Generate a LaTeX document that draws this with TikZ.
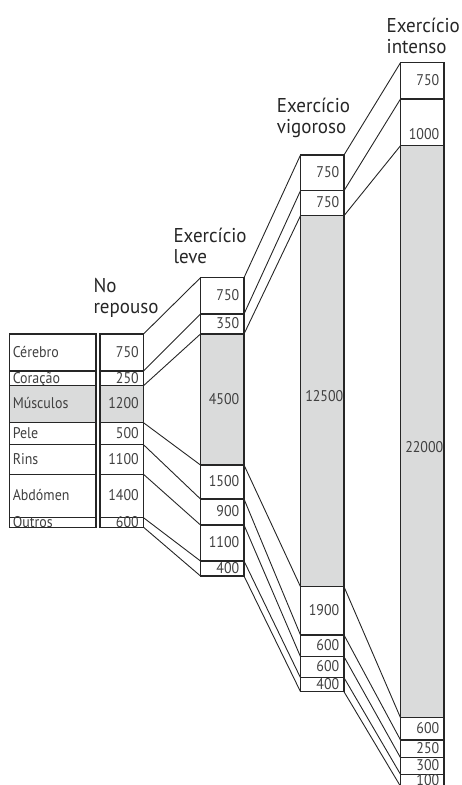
\documentclass[tikz,border=0pt]{standalone}
\usepackage{fontspec}
\setmainfont{PT Sans}[FakeStretch=0.9]
\newfontfamily\headfam{PT Sans}[FakeStretch=0.95]
\definecolor{musculo}{RGB}{218,219,219}
\newcommand{\valfont}{\fontsize{15.5}{15.5}\selectfont}
\newcommand{\titlefont}{\headfam\fontsize{20}{21}\selectfont}

\begin{document}
\begin{tikzpicture}[x=1pt,y=-1pt,
  cell/.style={draw=black!85, line width=1.1pt, rectangle, anchor=north west,
    inner sep=0pt, outer sep=0pt, minimum width=43.5pt, text width=34pt,
    align=right, text height=9.5pt, text depth=0pt, font=\valfont, text=black!75},
  organ/.style={cell, minimum width=86.5pt, text width=80pt, align=left},
  muscle/.style={fill=musculo},
  link/.style={draw=black!85, line width=0.9pt},
  heading/.style={font=\titlefont, align=left, anchor=base west,
    inner sep=0pt, text=black!85}]
\useasboundingbox (0,0) rectangle (462,785);
\clip (0,0) rectangle (462,785);

% titulos (base = ultima linha)
\node[heading] (hr) at (93.3,313) {No\\repouso};
\node[heading] (hl) at (173.3,263.5) {Exercício\\leve};
\node[heading] (hv) at (276.7,133.5) {Exercício\\vigoroso};
\node[heading] (ht) at (386.5,53.5) {Exercício\\intenso};

% orgaos
\node[organ, minimum height=37pt] (o1) at (9.5,334) {Cérebro};
\node[organ, minimum height=14.7pt] (o2) at (9.5,371) {Coração};
\node[organ, muscle, minimum height=37pt] (o3) at (9.5,385.7) {Músculos};
\node[organ, minimum height=22pt] (o4) at (9.5,422.7) {Pele};
\node[organ, minimum height=29.6pt] (o5) at (9.5,444.7) {Rins};
\node[organ, minimum height=43.4pt] (o6) at (9.5,474.3) {Abdómen};
\node[organ, minimum height=9pt] (o7) at (9.5,517.7) {Outros};

% no repouso
\node[cell, minimum height=37pt] (r1) at (100,334) {750};
\node[cell, minimum height=14.7pt] (r2) at (100,371) {250};
\node[cell, muscle, minimum height=37pt] (r3) at (100,385.7) {1200};
\node[cell, minimum height=22pt] (r4) at (100,422.7) {500};
\node[cell, minimum height=29.6pt] (r5) at (100,444.7) {1100};
\node[cell, minimum height=43.4pt] (r6) at (100,474.3) {1400};
\node[cell, minimum height=9pt] (r7) at (100,517.7) {600};

% exercicio leve
\node[cell, minimum height=36.3pt] (l1) at (200.5,277.7) {750};
\node[cell, minimum height=20pt] (l2) at (200.5,314) {350};
\node[cell, muscle, minimum height=131pt] (l3) at (200.5,334) {4500};
\node[cell, minimum height=34pt] (l4) at (200.5,465) {1500};
\node[cell, minimum height=26pt] (l5) at (200.5,499) {900};
\node[cell, minimum height=36pt] (l6) at (200.5,525) {1100};
\node[cell, minimum height=15pt] (l7) at (200.5,561) {400};

% exercicio vigoroso
\node[cell, minimum height=35.7pt] (v1) at (300.5,155) {750};
\node[cell, minimum height=25pt] (v2) at (300.5,190.7) {750};
\node[cell, muscle, minimum height=371pt] (v3) at (300.5,215.7) {\raisebox{4pt}{12500}};
\node[cell, minimum height=48.3pt] (v4) at (300.5,586.7) {1900};
\node[cell, minimum height=21.7pt] (v5) at (300.5,635) {600};
\node[cell, minimum height=21pt] (v6) at (300.5,656.7) {600};
\node[cell, minimum height=14pt] (v7) at (300.5,677.7) {400};

% exercicio intenso
\node[cell, minimum height=36.3pt] (t1) at (400.5,62.7) {750};
\node[cell, minimum height=46.7pt] (t2) at (400.5,99) {\raisebox{-12.6pt}{1000}};
\node[cell, muscle, minimum height=572pt] (t3) at (400.5,145.7) {\raisebox{-16pt}{22000}};
\node[cell, minimum height=22.3pt] (t4) at (400.5,717.7) {600};
\node[cell, minimum height=17.7pt] (t5) at (400.5,740) {250};
\node[cell, minimum height=16.6pt] (t6) at (400.5,757.7) {300};
\node[cell, minimum height=12pt] (t7) at (400.5,774.3) {100};

% ligacoes repouso -> leve
\path[link] (r1.north east) -- (l1.north west);
\path[link] (r1.south east) -- (l1.south west);
\path[link] (r2.south east) -- (l2.south west);
\path[link] (r3.south east) -- (l3.south west);
\path[link] (r4.south east) -- (l4.south west);
\path[link] (r5.south east) -- (l5.south west);
\path[link] (r6.south east) -- (l6.south west);
\path[link] (r7.south east) -- (l7.south west);

% ligacoes leve -> vigoroso
\path[link] (l1.north east) -- (v1.north west);
\path[link] (l1.south east) -- (v1.south west);
\path[link] (l2.south east) -- (v2.south west);
\path[link] (l3.south east) -- (v3.south west);
\path[link] (l4.south east) -- (v4.south west);
\path[link] (l5.south east) -- (v5.south west);
\path[link] (l6.south east) -- (v6.south west);
\path[link] (l7.south east) -- (v7.south west);

% ligacoes vigoroso -> intenso
\path[link] (v1.north east) -- (t1.north west);
\path[link] (v1.south east) -- (t1.south west);
\path[link] (v2.south east) -- (t2.south west);
\path[link] (v3.south east) -- (t3.south west);
\path[link] (v4.south east) -- (t4.south west);
\path[link] (v5.south east) -- (t5.south west);
\path[link] (v6.south east) -- (t6.south west);
\path[link] (v7.south east) -- (t7.south west);
\end{tikzpicture}
\end{document}
